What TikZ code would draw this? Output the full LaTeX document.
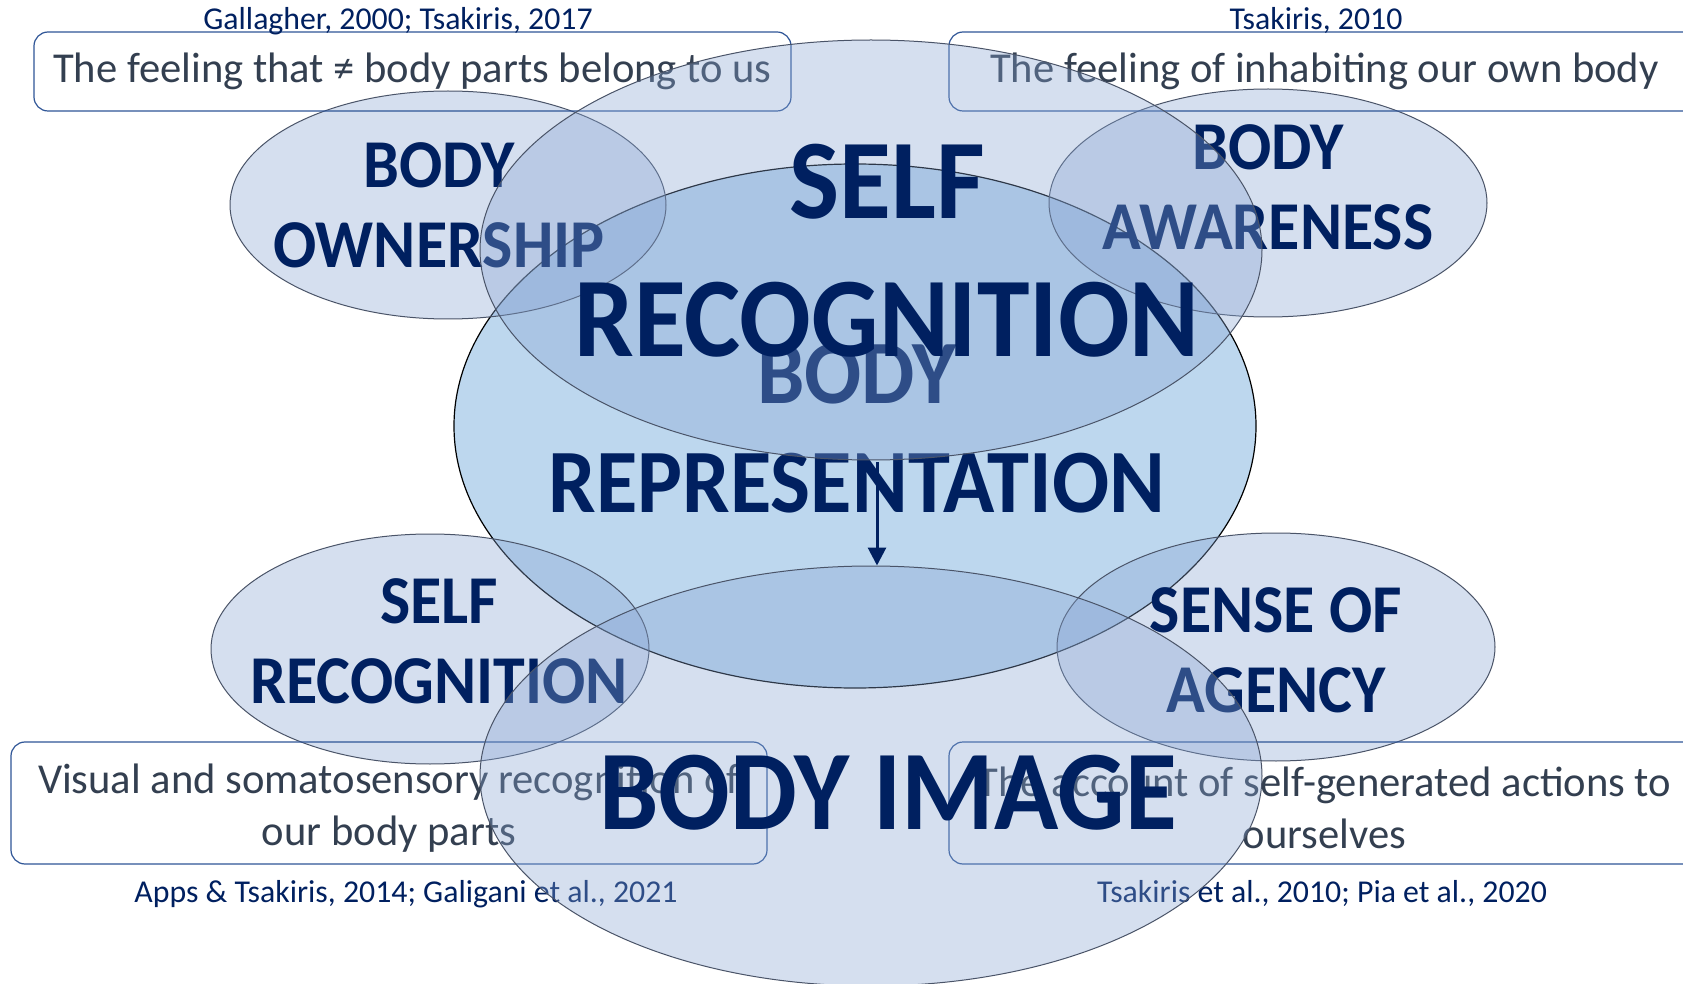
\documentclass[tikz,border=0pt]{standalone}
\usepackage{fontspec}
\setmainfont{Carlito}
\usetikzlibrary{arrows.meta,shapes.geometric}
\definecolor{navy}{HTML}{002060}
\definecolor{repfill}{HTML}{BDD7EE}
\definecolor{veilblue}{HTML}{88A5D3}
\definecolor{rimgrey}{HTML}{4A5468}
\definecolor{boxline}{HTML}{2F5597}
\definecolor{notegrey}{HTML}{333F50}
\tikzset{
  veil/.style={ellipse, draw=rimgrey, line width=0.5pt, fill=veilblue, fill opacity=0.345, inner sep=0pt},
  repblob/.style={ellipse, draw=black, line width=0.6pt, fill=repfill, inner sep=0pt},
  tall/.style={yscale=1.07, transform shape},
  facet/.style={tall, font=\bfseries\fontsize{32}{37.5}\selectfont, text=navy, align=center, inner sep=0pt},
  corelabel/.style={tall, font=\bfseries\fontsize{53}{64.5}\selectfont, text=navy, align=center, inner sep=0pt},
  replabel/.style={tall, font=\bfseries\fontsize{42.3}{51}\selectfont, text=navy, align=center, inner sep=0pt},
  notebox/.style={draw=boxline, line width=0.6pt, rounded corners=7pt, align=center, text=notegrey, font=\fontsize{21.3}{26}\selectfont, inner sep=0pt},
  refnote/.style={font=\fontsize{15.9}{18}\selectfont, text=navy, anchor=base},
  arrow/.style={-{Triangle[length=9pt, width=9pt]}, line width=1.5pt, draw=navy}
}
\begin{document}
\begin{tikzpicture}[x=0.5pt, y=-0.5pt]
  \fill[white] (0,0) rectangle (1683,984);
  \useasboundingbox (0,0) rectangle (1683,984);
  \clip (0,0) rectangle (1683,984);

  % body representation sits underneath everything
  \node[repblob, minimum width=401pt, minimum height=262pt] (bodyrep) at (855,426) {};
  \node[replabel] (replbl) at (857,429) {BODY\\REPRESENTATION};

  % the four facets
  \node[veil, minimum width=218pt, minimum height=114pt] (own) at (448,205) {};
  \node[veil, minimum width=219pt, minimum height=114pt] (aware) at (1268,203) {};
  \node[veil, minimum width=219pt, minimum height=115pt] (recog) at (430,649) {};
  \node[veil, minimum width=219pt, minimum height=114pt] (agency) at (1276,647) {};
  \node[facet] (ownlbl) at (439,205) {BODY\\OWNERSHIP};
  \node[facet] (awarelbl) at (1268,187) {BODY\\AWARENESS};
  \node[facet] (recoglbl) at (439,641) {SELF\\RECOGNITION};
  \node[facet] (agencylbl) at (1276,650) {SENSE OF\\AGENCY};

  % definitions with their references
  \node[notebox, minimum width=378.5pt, minimum height=39.5pt] (owndef) at (412.5,71.5) {The feeling that ≠ body parts belong to us};
  \node[notebox, minimum width=375.5pt, minimum height=39.5pt] (awaredef) at (1324.5,71.5) {The feeling of inhabiting our own body};
  \node[notebox, minimum width=378pt, minimum height=61pt] (recogdef) at (389,803) {\rule{0pt}{19.5pt}Visual and somatosensory recognition of\\our body parts};
  \node[notebox, minimum width=375.5pt, minimum height=61pt] (agencydef) at (1324.5,803) {\rule{0pt}{19.5pt}The account of self-generated actions to\\ourselves};
  \node[refnote] (ownref) at (398,30) {Gallagher, 2000; Tsakiris, 2017};
  \node[refnote] (awareref) at (1316,30) {Tsakiris, 2010};
  \node[refnote] (recogref) at (406,902) {Apps \& Tsakiris, 2014; Galigani et al., 2021};
  \node[refnote] (agencyref) at (1322,902) {Tsakiris et al., 2010; Pia et al., 2020};

  % the two large ellipses go over the rest
  \node[veil, minimum width=391pt, minimum height=210pt] (selfrec) at (871,250) {};
  \node[veil, minimum width=391pt, minimum height=210pt] (bodyimg) at (871,776) {};
  \node[corelabel] (selflbl) at (887,251) {SELF\\RECOGNITION};
  \node[corelabel] (imglbl) at (888,793) {BODY IMAGE};

  \coordinate (reptail) at (877,462);
  \draw[arrow] (reptail) -- (reptail |- bodyimg.north);
\end{tikzpicture}
\end{document}
